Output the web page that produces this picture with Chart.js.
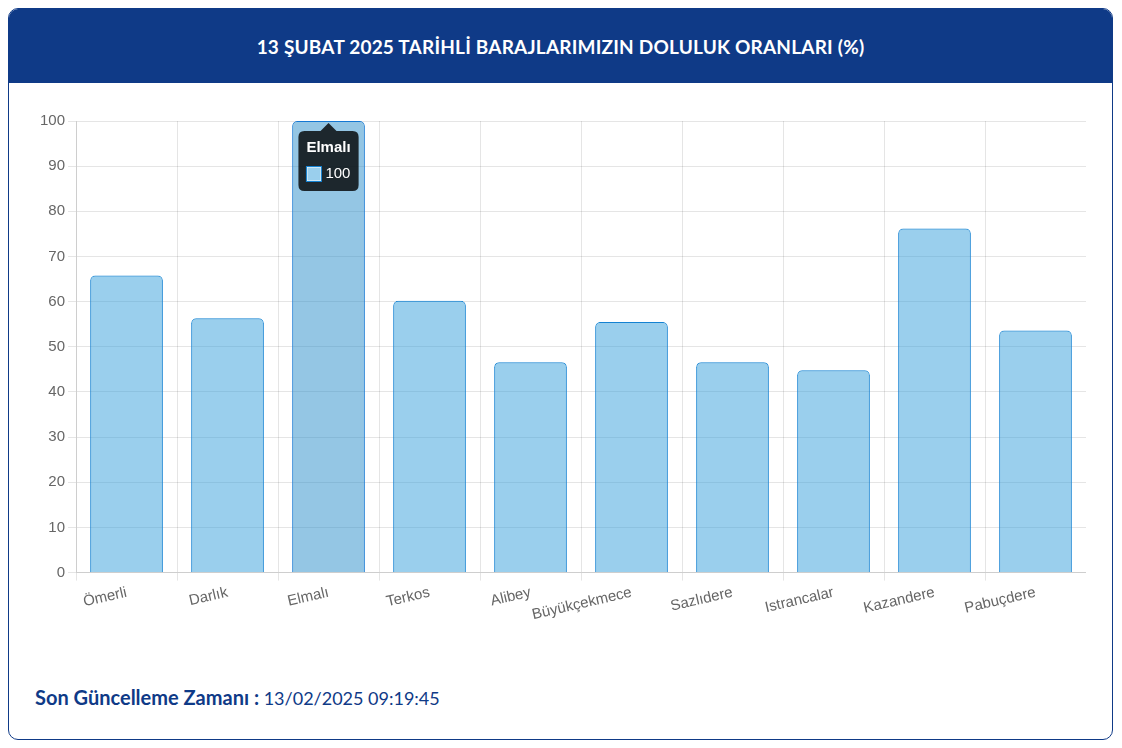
<!DOCTYPE html>
<html lang="tr">
<head>
<meta charset="utf-8">
<title>Baraj Doluluk Oranları</title>
<script src="https://cdn.jsdelivr.net/npm/chart.js@4/dist/chart.umd.min.js"></script>
<style>
    html, body { margin: 0; padding: 0; background: #fff; }
    body { width: 1122px; height: 748px; position: relative; font-family: Lato, "Open Sans", sans-serif; }
    .card {
        position: absolute; left: 8px; top: 8px; width: 1103px; height: 730px;
        border: 1px solid #0f3a87; border-radius: 10px; overflow: hidden; background: #fff;
    }
    .card-header {
        height: 74px; background: #0f3a87; color: #fff;
        display: flex; align-items: center; justify-content: center;
        font-weight: 700; font-size: 19px; letter-spacing: 0.2px;
    }
    .chart-box { position: absolute; left: 28px; top: 100px; width: 1049px; height: 518px; }
    .footer { position: absolute; left: 26px; top: 676px; font-size: 18px; color: #0f3a87; }
    .footer b { font-weight: 700; font-size: 20px; }
</style>
</head>
<body>
<div class="card">
    <div class="card-header">13 ŞUBAT 2025 TARİHLİ BARAJLARIMIZIN DOLULUK ORANLARI (%)</div>
    <div class="chart-box"><canvas id="barChart"></canvas></div>
    <div class="footer"><b>Son Güncelleme Zamanı :</b> 13/02/2025 09:19:45</div>
</div>
<script>
const dams = ['Ömerli', 'Darlık', 'Elmalı', 'Terkos', 'Alibey', 'Büyükçekmece', 'Sazlıdere', 'Istrancalar', 'Kazandere', 'Pabuçdere'];
const fillRates = [65.8, 56.3, 100, 60.2, 46.6, 55.5, 46.6, 44.8, 76.2, 53.6];
const yTicks = [0, 10, 20, 30, 40, 50, 60, 70, 80, 90, 100];

const tickFont = { family: '"Liberation Sans", Arial, sans-serif', size: 15 };

const chart = new Chart(document.getElementById('barChart'), {
    type: 'bar',
    data: {
        labels: dams,
        datasets: [{
            label: '',
            data: fillRates,
            backgroundColor: 'rgba(54,160,220,0.5)',
            hoverBackgroundColor: 'rgba(41,141,201,0.5)',
            borderColor: 'rgba(20,130,210,1)',
            hoverBorderColor: 'rgba(20,120,210,1)',
            borderWidth: 1,
            borderRadius: 5
        }]
    },
    options: {
        responsive: true,
        maintainAspectRatio: false,
        animation: false,
        plugins: {
            legend: { display: false },
            tooltip: {
                titleFont: { family: tickFont.family, size: 15, weight: 'bold' },
                bodyFont: { family: tickFont.family, size: 15 },
                padding: 8,
                titleMarginBottom: 8,
                caretSize: 8,
                cornerRadius: 6,
                boxPadding: 2
            }
        },
        scales: {
            x: {
                ticks: { color: '#666', font: tickFont, minRotation: 13, maxRotation: 13, autoSkip: false }
            },
            y: {
                min: 0, max: 100,
                afterBuildTicks: axis => { axis.ticks = yTicks.map(v => ({ value: v })); },
                ticks: { color: '#666', font: tickFont }
            }
        }
    }
});

const active = [{ datasetIndex: 0, index: 2 }];
chart.setActiveElements(active);
chart.tooltip.setActiveElements(active, { x: 0, y: 0 });
chart.update();
</script>
</body>
</html>
